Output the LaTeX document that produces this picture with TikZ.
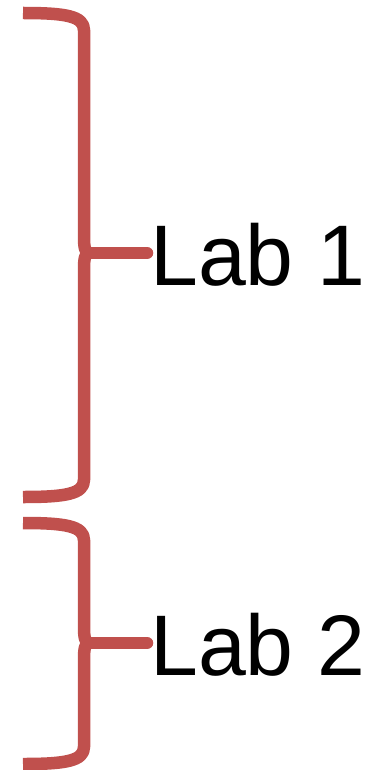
\documentclass[tikz,border=0pt]{standalone}
\usepackage{fontspec}
\setmainfont{Liberation Sans}
\definecolor{bracered}{RGB}{192,80,77}
\begin{document}
\begin{tikzpicture}[x=1pt,y=-1pt,
  brace/.style={draw=bracered,line width=12.5pt,line join=round},
  arm/.style={draw=bracered,line width=12.5pt,line cap=round},
  lab/.style={anchor=base west,inner sep=0pt,font=\fontsize{86}{90}\selectfont}]
\useasboundingbox (0,0) rectangle (376,770);
% brace 1
\coordinate (t1) at (23,13);
\coordinate (m1) at (89,253);
\coordinate (b1) at (23,497);
\node[lab] (lab1) at (150,285) {Lab 1};
\draw[brace] (t1) .. controls (65,13) and (84,16) .. (84,30) -- (84,236)
  .. controls (84,248) and (85,252) .. (m1);
\draw[brace] (b1) .. controls (65,497) and (84,494) .. (84,480) -- (84,270)
  .. controls (84,258) and (85,254) .. (m1);
\draw[arm] (m1) .. controls (100,253) and (120,253) .. (147,253);
% brace 2
\coordinate (t2) at (23,523);
\coordinate (m2) at (89,643);
\coordinate (b2) at (23,764);
\node[lab] (lab2) at (150,675) {Lab 2};
\draw[brace] (t2) .. controls (65,523) and (84,526) .. (84,540) -- (84,626)
  .. controls (84,638) and (85,642) .. (m2);
\draw[brace] (b2) .. controls (65,764) and (84,761) .. (84,747) -- (84,660)
  .. controls (84,648) and (85,644) .. (m2);
\draw[arm] (m2) -- (147,643);
\end{tikzpicture}
\end{document}
